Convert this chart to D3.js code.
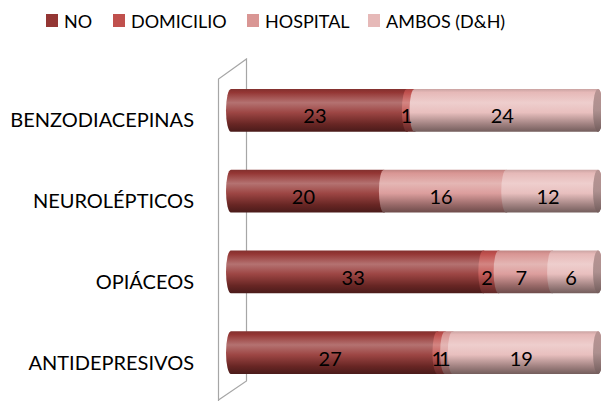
<!DOCTYPE html>
<html>
<head>
<meta charset="utf-8">
<script src="https://cdn.jsdelivr.net/npm/d3@7"></script>
<style>
  html, body { margin: 0; padding: 0; background: #fff; }
  svg { display: block; }
  text { font-family: Lato, "Open Sans", sans-serif; fill: #000; }
</style>
</head>
<body>
<svg id="chart" width="601" height="401"></svg>
<script>
// Stacked cylinder bars: medication group by place of use
const categories = ["BENZODIACEPINAS", "NEUROLÉPTICOS", "OPIÁCEOS", "ANTIDEPRESIVOS"];
const seriesNames = ["NO", "DOMICILIO", "HOSPITAL", "AMBOS (D&H)"];
const seriesColors = ["#943634", "#C0504D", "#D99694", "#E6B9B8"];
const noValues        = [23, 20, 33, 27];
const domicilioValues = [1, 0, 2, 1];
const hospitalValues  = [0, 16, 7, 1];
const ambosValues     = [24, 12, 6, 19];
const xMax = 48;

const seriesValues = [noValues, domicilioValues, hospitalValues, ambosValues];
const rows = categories.map((c, i) => {
  const r = { category: c };
  seriesNames.forEach((s, j) => { r[s] = seriesValues[j][i]; });
  return r;
});
const stacked = d3.stack().keys(seriesNames)(rows);

const svg = d3.select("#chart");
const x = d3.scaleLinear().domain([0, xMax]).range([231, 598]);
const y = d3.scaleBand().domain(categories).range([70, 393]).paddingInner(0.47).paddingOuter(0.235);
const color = d3.scaleOrdinal().domain(seriesNames).range(seriesColors);

// cylinder shading gradients
const defs = svg.append("defs");
const mix = (a, b, t) => d3.interpolateRgb(a, b)(t);
seriesNames.forEach((s, i) => {
  const c = seriesColors[i];
  const g = defs.append("linearGradient").attr("id", "grad" + i)
    .attr("x1", 0).attr("y1", 0).attr("x2", 0).attr("y2", 1);
  [[0, mix(c, "#000", 0.12)], [0.08, c], [0.32, mix(c, "#fff", 0.3)],
   [0.55, mix(c, "#fff", 0.08)], [0.82, mix(c, "#000", 0.3)], [1, mix(c, "#000", 0.5)]]
    .forEach(([o, col]) => g.append("stop").attr("offset", o).attr("stop-color", col));
  const e = defs.append("linearGradient").attr("id", "cap" + i)
    .attr("x1", 0).attr("y1", 0).attr("x2", 0).attr("y2", 1);
  [[0, mix(c, "#000", 0.2)], [0.5, mix(c, "#444", 0.35)], [1, mix(c, "#000", 0.5)]]
    .forEach(([o, col]) => e.append("stop").attr("offset", o).attr("stop-color", col));
});

// back wall of the category axis
const wall = svg.append("g").attr("fill", "none").attr("stroke", "#a6a6a6").attr("stroke-width", 1.2);
wall.append("path").attr("d", "M218.5,401 L218.5,79 L246.5,59 L246.5,381 L218.5,400");

const rx = 5;
const segPath = (x0, x1, top, bot) => {
  const ry = (bot - top) / 2;
  return `M${x0},${top} L${x1},${top} A${rx},${ry} 0 0 1 ${x1},${bot} L${x0},${bot} A${rx},${ry} 0 0 1 ${x0},${top} Z`;
};

const barG = svg.append("g");
categories.forEach((cat, ci) => {
  const top = y(cat), bot = y(cat) + y.bandwidth();
  stacked.forEach((layer, si) => {
    const d = layer[ci];
    if (d[1] - d[0] <= 0) return;
    barG.append("path")
      .attr("d", segPath(x(d[0]), x(d[1]), top, bot))
      .attr("fill", `url(#grad${si})`);
  });
  // end face of the cylinder
  let last = 0;
  stacked.forEach((layer, si) => { if (layer[ci][1] - layer[ci][0] > 0) last = si; });
  const xe = x(stacked[last][ci][1]);
  barG.append("ellipse")
    .attr("cx", xe).attr("cy", (top + bot) / 2)
    .attr("rx", rx).attr("ry", (bot - top) / 2)
    .attr("fill", `url(#cap${last})`);
});

// value labels
const labG = svg.append("g").attr("font-size", 20).attr("text-anchor", "middle");
categories.forEach((cat, ci) => {
  const cy = y(cat) + y.bandwidth() / 2;
  stacked.forEach((layer, si) => {
    const d = layer[ci];
    const v = d[1] - d[0];
    if (v <= 0) return;
    labG.append("text")
      .attr("x", (x(d[0]) + x(d[1])) / 2 - 4)
      .attr("y", cy + 13)
      .text(v);
  });
});

// category labels
const catG = svg.append("g").attr("font-size", 20).attr("text-anchor", "end");
categories.forEach(cat => {
  catG.append("text")
    .attr("x", 194)
    .attr("y", y(cat) + y.bandwidth() / 2 + 17)
    .text(cat);
});

// legend
const legendX = [46, 113, 247, 368];
const leg = svg.append("g");
seriesNames.forEach((s, i) => {
  leg.append("rect").attr("x", legendX[i]).attr("y", 14).attr("width", 12).attr("height", 13)
    .attr("fill", color(s));
  leg.append("text").attr("x", legendX[i] + 18).attr("y", 28).attr("font-size", 18).text(s);
});
</script>
</body>
</html>
